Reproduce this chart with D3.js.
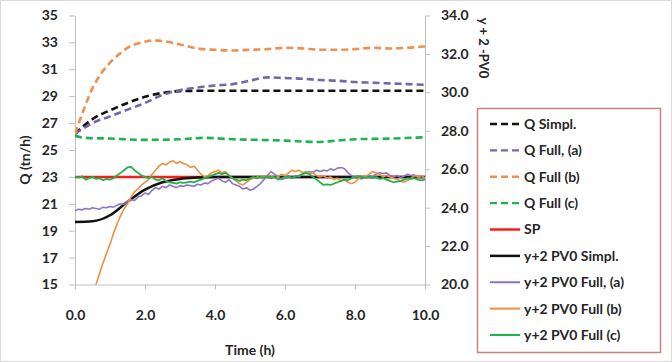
<!DOCTYPE html>
<html>
<head>
<meta charset="utf-8">
<script src="https://cdn.jsdelivr.net/npm/d3@7/dist/d3.min.js"></script>
<style>
  body { margin: 0; background: #fff; }
  text { font-family: Lato, "Open Sans", sans-serif; font-weight: bold; fill: #262626; }
</style>
</head>
<body>
<div id="chart"></div>
<script>
// sample grid of the noisy (full model) traces, hours
const noisyTime = [0.0,0.1,0.2,0.3,0.4,0.5,0.6,0.7,0.8,0.9,1.0,1.1,1.2,1.3,1.4,1.5,1.6,1.7,1.8,1.9,
  2.0,2.1,2.2,2.3,2.4,2.5,2.6,2.7,2.8,2.9,3.0,3.1,3.2,3.3,3.4,3.5,3.6,3.7,3.8,3.9,
  4.0,4.1,4.2,4.3,4.4,4.5,4.6,4.7,4.8,4.9,5.0,5.1,5.2,5.3,5.4,5.5,5.6,5.7,5.8,5.9,
  6.0,6.1,6.2,6.3,6.4,6.5,6.6,6.7,6.8,6.9,7.0,7.1,7.2,7.3,7.4,7.5,7.6,7.7,7.8,7.9,
  8.0,8.1,8.2,8.3,8.4,8.5,8.6,8.7,8.8,8.9,9.0,9.1,9.2,9.3,9.4,9.5,9.6,9.7,9.8,9.9,10.0];

const pvFullA = [20.5,20.6,20.55,20.65,20.6,20.7,20.65,20.6,20.75,20.7,20.8,
  20.75,20.9,21.0,20.95,21.2,21.3,21.25,21.5,21.6,21.8,
  21.7,22.0,22.2,22.1,22.3,22.2,22.4,22.3,22.2,22.35,
  22.3,22.4,22.35,22.3,22.45,22.4,22.55,22.5,22.7,22.8,
  22.9,22.7,22.6,22.8,22.5,22.4,22.3,22.1,22.2,22.0,
  22.1,22.3,22.5,22.8,23.1,23.4,23.2,23.0,22.8,22.9,
  23.0,22.9,23.1,23.0,23.2,23.3,23.4,23.35,23.5,23.4,
  23.5,23.45,23.6,23.5,23.65,23.7,23.6,23.3,23.1,22.95,
  22.9,22.85,23.0,23.1,23.0,23.2,23.3,23.25,23.3,23.1,
  23.0,23.1,22.95,23.05,23.2,23.1,23.15,23.0,22.9,22.95];

const pvFullB = [13.0,13.3,13.8,14.2,14.5,14.8,15.0,15.8,16.6,17.3,18.0,
  18.8,19.5,20.1,20.6,21.0,21.5,21.9,22.1,22.4,22.6,
  22.8,23.2,23.5,23.8,24.0,23.9,24.1,24.2,24.0,24.15,
  24.0,23.9,23.7,23.8,23.5,23.2,23.0,23.1,23.3,23.4,
  23.5,23.3,23.4,23.1,22.9,22.7,22.5,22.4,22.6,22.8,
  22.9,23.0,22.95,23.05,23.0,23.1,22.9,23.0,23.2,23.1,
  23.3,23.5,23.4,23.5,23.3,23.4,23.2,23.3,23.1,23.0,
  23.1,22.9,23.0,22.8,22.9,22.7,22.8,22.6,22.5,22.6,
  22.9,23.1,23.0,23.2,23.4,23.3,23.2,23.0,23.1,23.0,
  22.9,22.8,22.7,22.6,22.75,22.9,23.1,23.0,23.1,22.9];

const pvFullC = [23.0,22.95,23.05,22.8,22.9,23.0,22.85,22.9,22.75,22.85,22.8,
  22.9,23.1,23.3,23.5,23.7,23.75,23.5,23.3,23.1,23.0,
  22.9,23.0,22.8,22.75,22.9,22.7,22.6,22.55,22.5,22.6,
  22.55,22.6,22.65,22.6,22.7,22.8,22.9,23.0,23.1,23.2,
  23.3,23.2,23.3,23.1,22.9,22.8,22.7,22.8,22.75,22.9,
  23.0,22.9,23.0,22.95,23.05,22.9,23.0,22.8,22.9,23.0,
  23.05,22.95,23.0,23.1,23.2,23.3,23.2,23.0,22.8,22.6,
  22.4,22.45,22.4,22.5,22.6,22.7,22.8,22.75,22.9,23.0,
  23.05,23.0,22.95,23.0,22.9,23.0,22.85,22.9,22.8,22.7,
  22.6,22.65,22.7,22.8,22.9,22.85,22.9,22.8,22.75,22.8];

// smooth traces
const qSimplTime = [0, 0.5, 1, 1.5, 2, 2.5, 3, 3.5, 4, 6, 8, 10];
const qSimpl = [26.2, 27.3, 27.95, 28.5, 28.95, 29.25, 29.38, 29.4, 29.4, 29.4, 29.4, 29.4];

const qFullATime = [0, 0.5, 1, 1.5, 2, 2.5, 3, 3.5, 4, 4.5, 5, 5.5, 6, 6.5, 7, 7.5, 8, 8.5, 9, 9.5, 10];
const qFullA = [26.2, 27.0, 27.5, 28.0, 28.5, 29.1, 29.45, 29.65, 29.8, 29.9, 30.15, 30.4, 30.35, 30.3, 30.2, 30.15, 30.05, 30.0, 29.95, 29.9, 29.85];

const qFullBTime = [0, 0.25, 0.5, 0.75, 1, 1.25, 1.5, 2, 2.25, 2.5, 3, 3.5, 4, 4.5, 5, 5.5, 6, 6.5, 7, 7.5, 8, 8.5, 9, 9.5, 10];
const qFullB = [26.2, 28.0, 29.6, 30.7, 31.5, 32.1, 32.6, 33.05, 33.15, 33.1, 32.85, 32.55, 32.45, 32.4, 32.45, 32.5, 32.6, 32.55, 32.45, 32.45, 32.5, 32.6, 32.55, 32.6, 32.7];

const qFullCTime = [0, 0.3, 1, 2, 3, 3.7, 4.5, 5.3, 6, 6.9, 7.5, 8, 9, 10];
const qFullC = [26.05, 25.9, 25.85, 25.75, 25.8, 25.9, 25.8, 25.75, 25.7, 25.6, 25.7, 25.8, 25.85, 25.95];

const spTime = [0, 10];
const sp = [23, 23];

const pvSimplTime = [0, 0.5, 1, 1.5, 2, 2.5, 3, 3.5, 4, 10];
const pvSimpl = [19.65, 19.7, 20.15, 21.15, 22.05, 22.6, 22.85, 22.95, 23.0, 23.0];

const leftTicks = [15, 17, 19, 21, 23, 25, 27, 29, 31, 33, 35];
const rightTicks = [20, 22, 24, 26, 28, 30, 32, 34];
const timeTicks = [0, 2, 4, 6, 8, 10];

const series = [
  { name: "Q Simpl.", t: qSimplTime, v: qSimpl, color: "#111", dash: true, smooth: true },
  { name: "Q Full, (a)", t: qFullATime, v: qFullA, color: "#7565ad", dash: true, smooth: true },
  { name: "Q Full (b)", t: qFullBTime, v: qFullB, color: "#ee9050", dash: true, smooth: true },
  { name: "Q Full (c)", t: qFullCTime, v: qFullC, color: "#1db34f", dash: true, smooth: true },
  { name: "SP", t: spTime, v: sp, color: "#ff1a1a", dash: false, smooth: false, width: 2.5 },
  { name: "y+2 PV0 Simpl.", t: pvSimplTime, v: pvSimpl, color: "#111", dash: false, smooth: true, width: 2.5 },
  { name: "y+2 PV0 Full, (a)", t: noisyTime, v: pvFullA, color: "#8c74c2", dash: false, smooth: false, width: 1.6 },
  { name: "y+2 PV0 Full (b)", t: noisyTime, v: pvFullB, color: "#ef8f3e", dash: false, smooth: false, width: 1.6 },
  { name: "y+2 PV0 Full (c)", t: noisyTime, v: pvFullC, color: "#22b24c", dash: false, smooth: false, width: 1.8 }
];

const width = 672, height = 362;
const plot = { left: 75, right: 425, top: 15.5, bottom: 284.5 };

const svg = d3.select("#chart").append("svg")
  .attr("width", width)
  .attr("height", height);

svg.append("rect")
  .attr("x", 0.5).attr("y", 0.5)
  .attr("width", width - 1).attr("height", height - 1)
  .attr("fill", "#fff")
  .attr("stroke", "#d9d9d9");

const x = d3.scaleLinear().domain([0, 10]).range([plot.left, plot.right]);
const yLeft = d3.scaleLinear().domain([15, 35]).range([plot.bottom, plot.top]);
const yRight = d3.scaleLinear().domain([20, 34]).range([plot.bottom, plot.top]);

// axes
function styleAxis(g) {
  g.selectAll("path.domain").attr("stroke", "#bfbfbf");
  g.selectAll(".tick line").attr("stroke", "#bfbfbf");
  g.selectAll(".tick text")
    .attr("fill", "#262626")
    .style("font-size", "14px")
    .style("font-family", "Lato, 'Open Sans', sans-serif")
    .style("font-weight", "bold");
}

svg.append("g")
  .attr("transform", `translate(${plot.left},0)`)
  .call(d3.axisLeft(yLeft).tickValues(leftTicks).tickFormat(d3.format("d")).tickSize(6).tickSizeOuter(0).tickPadding(11))
  .call(styleAxis);

svg.append("g")
  .attr("transform", `translate(${plot.right},0)`)
  .call(d3.axisRight(yRight).tickValues(rightTicks).tickFormat(d3.format(".1f")).tickSize(5).tickSizeOuter(0).tickPadding(11))
  .call(styleAxis);

svg.append("g")
  .attr("transform", `translate(0,${plot.bottom})`)
  .call(d3.axisBottom(x).tickValues(timeTicks).tickFormat(d3.format(".1f")).tickSize(5).tickSizeOuter(0).tickPadding(21))
  .call(styleAxis);

// axis titles
svg.append("text")
  .attr("transform", "translate(30,160) rotate(-90)")
  .attr("text-anchor", "middle")
  .style("font-size", "14px")
  .text("Q  (tn/h)");

svg.append("text")
  .attr("transform", "translate(479,48) rotate(90)")
  .attr("text-anchor", "middle")
  .style("font-size", "13px")
  .text("y + 2 -PV0");

svg.append("text")
  .attr("x", 250).attr("y", 355)
  .attr("text-anchor", "middle")
  .style("font-size", "14px")
  .text("Time (h)");

// lines
svg.append("clipPath").attr("id", "plotClip")
  .append("rect")
  .attr("x", plot.left).attr("y", plot.top - 2)
  .attr("width", plot.right - plot.left + 2).attr("height", plot.bottom - plot.top + 2);

const linesG = svg.append("g").attr("clip-path", "url(#plotClip)");

series.forEach(s => {
  const pts = s.t.map((t, i) => [t, s.v[i]]);
  const line = d3.line()
    .x(d => x(d[0]))
    .y(d => yLeft(d[1]))
    .curve(s.smooth ? d3.curveMonotoneX : d3.curveLinear);
  linesG.append("path")
    .datum(pts)
    .attr("fill", "none")
    .attr("stroke", s.color)
    .attr("stroke-width", s.dash ? 2.6 : s.width)
    .attr("stroke-dasharray", s.dash ? "7,4" : null)
    .attr("stroke-linejoin", "round")
    .attr("d", line);
});

// legend
const legend = svg.append("g");
legend.append("rect")
  .attr("x", 477.5).attr("y", 108.5)
  .attr("width", 183).attr("height", 244)
  .attr("fill", "#fff")
  .attr("stroke", "#cf7f7d")
  .attr("stroke-width", 1.5);

const rowY = d3.scaleLinear().domain([0, 8]).range([124, 335]);

series.forEach((s, i) => {
  const yy = rowY(i);
  legend.append("line")
    .attr("x1", 490).attr("x2", 520)
    .attr("y1", yy).attr("y2", yy)
    .attr("stroke", s.color)
    .attr("stroke-width", s.dash ? 2.4 : (s.width > 2 ? 2.5 : 2))
    .attr("stroke-dasharray", s.dash ? "7,4" : null);
  legend.append("text")
    .attr("x", 524).attr("y", yy)
    .attr("dy", "0.35em")
    .style("font-size", "14px")
    .text(s.name);
});
</script>
</body>
</html>
